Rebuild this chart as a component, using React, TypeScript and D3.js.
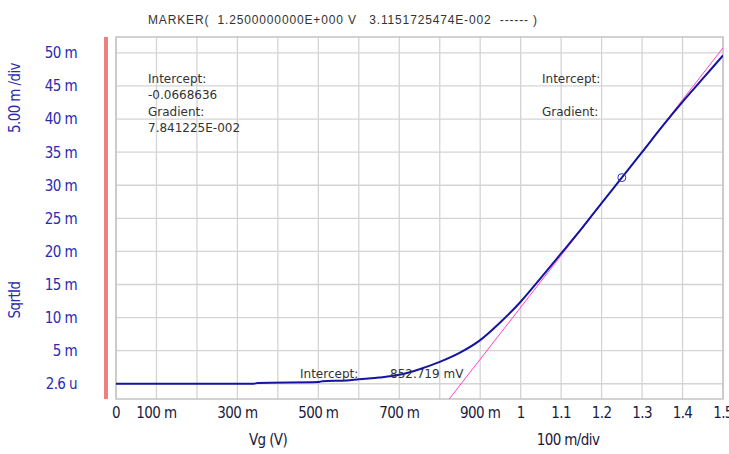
import React from 'react';
import * as d3 from 'd3';

// Vg (V) vs SqrtId (in m = 1e-3)
const vg = [0, 0.2, 0.34, 0.35, 0.5, 0.51, 0.57, 0.6, 0.65, 0.7, 0.75, 0.8, 0.85, 0.9, 0.95, 1.0, 1.05, 1.1, 1.15, 1.2, 1.25, 1.3, 1.35, 1.4, 1.45, 1.5];
const sqrtId = [0.0026, 0.0026, 0.01, 0.12, 0.25, 0.4, 0.5, 0.7, 0.95, 1.35, 2.2, 3.3, 4.7, 6.6, 9.3, 12.4, 16.0, 19.7, 23.4, 27.3, 31.15, 35.0, 38.9, 42.6, 46.1, 49.6];

const xTicks = [0, 0.1, 0.3, 0.5, 0.7, 0.9, 1, 1.1, 1.2, 1.3, 1.4, 1.5];
const xTickLabels = ['0', '100 m', '300 m', '500 m', '700 m', '900 m', '1', '1.1', '1.2', '1.3', '1.4', '1.5'];
const xGrid = d3.range(0, 16).map((i) => i / 10);
const yTicks = [0.0026, 5, 10, 15, 20, 25, 30, 35, 40, 45, 50];
const yTickLabels = ['2.6 u', '5 m', '10 m', '15 m', '20 m', '25 m', '30 m', '35 m', '40 m', '45 m', '50 m'];

const marker = { x: 1.25, y: 31.151725474 };
const gradient = 7.841225e-2;
const intercept = -0.0668636;

const leftNotes = ['Intercept:', '-0.0668636', 'Gradient:', '7.841225E-002'];
const rightNotes = ['Intercept:', '', 'Gradient:'];

const W = 729;
const H = 454;
const plot = { left: 116, right: 723, top: 37, bottom: 399 };

const narrow = '"Liberation Sans Narrow", "DejaVu Sans Condensed", sans-serif';
const blueText = '#2b2bb0';

export default function App() {
  const x = d3.scaleLinear().domain([0, 1.5]).range([plot.left, plot.right]);
  const y = d3.scaleLinear().domain([-2.3, 52.4]).range([plot.bottom, plot.top]);

  const pts = vg.map((v, i) => [v, sqrtId[i]] as [number, number]);
  const line = d3
    .line<[number, number]>()
    .x((d) => x(d[0]))
    .y((d) => y(d[1]))
    .curve(d3.curveMonotoneX);

  // tangent line in m units
  const tan = (v: number) => (gradient * v + intercept) * 1000;
  const tx0 = 0.8;
  const tx1 = 1.52;

  return (
    <div style={{ position: 'absolute', left: 0, top: 0 }}>
      <svg width={W} height={H} style={{ display: 'block', background: '#fff' }}>
        <defs>
          <clipPath id="plotClip">
            <rect x={plot.left} y={plot.top} width={plot.right - plot.left} height={plot.bottom - plot.top} />
          </clipPath>
        </defs>

        <text x={148} y={24} fontFamily="Liberation Sans, sans-serif" fontSize={12} fill="#333" textLength={389} xmlSpace="preserve">
          {'MARKER(  1.2500000000E+000 V   3.1151725474E-002  ------ )'}
        </text>

        {/* red bar */}
        <rect x={104} y={plot.top} width={4} height={plot.bottom - plot.top} fill="#f08080" />

        {/* grid */}
        <rect x={plot.left} y={plot.top} width={plot.right - plot.left} height={plot.bottom - plot.top} fill="#fff" />
        {xGrid.map((g) => (
          <line key={'xg' + g} x1={x(g)} x2={x(g)} y1={plot.top} y2={plot.bottom} stroke="#d4d4d4" strokeWidth={1.3} />
        ))}
        {yTicks.map((g) => (
          <line key={'yg' + g} x1={plot.left} x2={plot.right} y1={y(g)} y2={y(g)} stroke="#d4d4d4" strokeWidth={1.3} />
        ))}
        <rect x={plot.left} y={plot.top} width={plot.right - plot.left} height={plot.bottom - plot.top} fill="none" stroke="#c4c4c4" strokeWidth={1.5} />

        {/* y axis labels */}
        {yTicks.map((t, i) => (
          <text key={'yl' + t} x={77} y={y(t)} dy="0.36em" textAnchor="end" fontFamily={narrow} fontSize={15} fill={blueText} letterSpacing={-0.6}>
            {yTickLabels[i]}
          </text>
        ))}
        <text transform="translate(20,98) rotate(-90)" textAnchor="middle" fontFamily={narrow} fontSize={15} fill={blueText} letterSpacing={-0.6}>
          5.00 m /div
        </text>
        <text transform="translate(20,300) rotate(-90)" textAnchor="middle" fontFamily={narrow} fontSize={15} fill={blueText} letterSpacing={-0.6}>
          SqrtId
        </text>

        {/* x axis labels */}
        {xTicks.map((t, i) => (
          <text key={'xl' + t} x={x(t)} y={418} textAnchor="middle" fontFamily={narrow} fontSize={15} fill="#1a1a40" letterSpacing={-0.6}>
            {xTickLabels[i]}
          </text>
        ))}
        <text x={268} y={445} textAnchor="middle" fontFamily={narrow} fontSize={15} fill="#1a1a40" letterSpacing={-0.6}>
          Vg (V)
        </text>
        <text x={568} y={445} textAnchor="middle" fontFamily={narrow} fontSize={15} fill="#1a1a40" letterSpacing={-0.6}>
          100 m/div
        </text>

        {/* notes */}
        {leftNotes.map((s, i) => (
          <text key={'ln' + i} x={148} y={83 + i * 16.3} fontFamily="DejaVu Sans, sans-serif" fontSize={12} fill="#333">
            {s}
          </text>
        ))}
        {rightNotes.map((s, i) => (
          <text key={'rn' + i} x={542} y={83 + i * 16.3} fontFamily="DejaVu Sans, sans-serif" fontSize={12} fill="#333">
            {s}
          </text>
        ))}

        <g clipPath="url(#plotClip)">
          <line x1={x(tx0)} y1={y(tan(tx0))} x2={x(tx1)} y2={y(tan(tx1))} stroke="#ff40c8" strokeWidth={1} />
          <path d={line(pts) ?? ''} fill="none" stroke="#1414a0" strokeWidth={2} />
          <circle cx={x(marker.x)} cy={y(marker.y)} r={4} fill="none" stroke="#3030c0" strokeWidth={1} />
        </g>

        <text x={300} y={378} fontFamily="DejaVu Sans, sans-serif" fontSize={12} fill="#333">
          Intercept:
        </text>
        <text x={390} y={378} fontFamily="DejaVu Sans, sans-serif" fontSize={12} fill="#333">
          852.719 mV
        </text>
      </svg>
    </div>
  );
}
